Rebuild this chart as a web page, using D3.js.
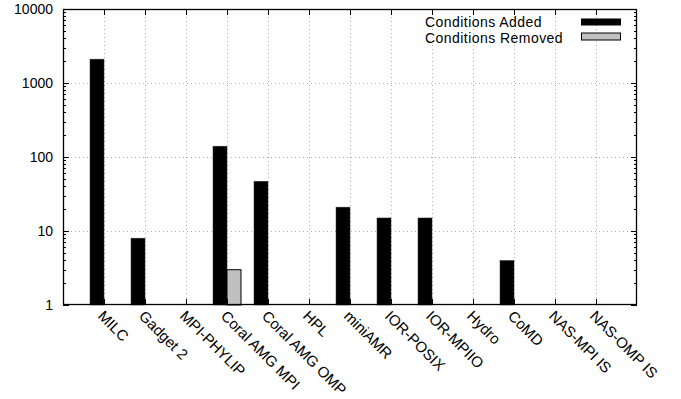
<!DOCTYPE html>
<html><head><meta charset="utf-8">
<script src="https://cdn.jsdelivr.net/npm/d3@7"></script>
<style>body{margin:0;background:#fff}text{font-family:Arial,"Liberation Sans",Helvetica,sans-serif}</style>
</head><body>
<svg id="c" width="681" height="399"></svg>
<script>
const categories = ["MILC","Gadget 2","MPI-PHYLIP","Coral AMG MPI","Coral AMG OMP","HPL","miniAMR","IOR-POSIX","IOR-MPIIO","Hydro","CoMD","NAS-MPI IS","NAS-OMP IS"];
const added   = [2100, 8, 0, 140, 47, 0, 21, 15, 15, 0, 4, 0, 0];
const removed = [0, 0, 0, 3, 0, 0, 0, 0, 0, 0, 0, 0, 0];
const seriesNames = ["Conditions Added","Conditions Removed"];
const yTicks = [1, 10, 100, 1000, 10000];

const svg = d3.select("#c");
const L = 63, R = 637, T = 9, B = 305;
const x = d3.scaleLinear().domain([0, categories.length + 1]).range([L, R]);
const y = d3.scaleLog().domain([1, 10000]).range([B, T]);
const bw = 14;

// grid
const grid = svg.append("g").attr("stroke", "#b0b0b0").attr("stroke-width", 1).attr("stroke-dasharray", "1,3");
yTicks.slice(1, -1).forEach(v => grid.append("line").attr("x1", L).attr("x2", R).attr("y1", Math.round(y(v)) + .5).attr("y2", Math.round(y(v)) + .5));
categories.forEach((c, i) => grid.append("line").attr("x1", Math.round(x(i + 1)) + .5).attr("x2", Math.round(x(i + 1)) + .5).attr("y1", T).attr("y2", B));

// bars
const bars = svg.append("g");
added.forEach((v, i) => { if (v > 0) bars.append("rect").attr("x", x(i + 1) - bw).attr("width", bw).attr("y", y(v)).attr("height", B - y(v)).attr("fill", "#000").attr("stroke", "#333").attr("stroke-width", 0.5); });
removed.forEach((v, i) => { if (v > 0) bars.append("rect").attr("x", x(i + 1)).attr("width", bw).attr("y", y(v)).attr("height", B - y(v)).attr("fill", "#c0c0c0").attr("stroke", "#000").attr("stroke-width", 1); });

// ticks
const tk = svg.append("g").attr("stroke", "#000").attr("stroke-width", 1);
for (let d = 1; d < 10000; d *= 10) {
  for (let m = 1; m < 10; m++) {
    const v = d * m, yy = Math.round(y(v)) + .5, len = m === 1 ? 6 : 3;
    tk.append("line").attr("x1", L).attr("x2", L + len).attr("y1", yy).attr("y2", yy);
    tk.append("line").attr("x1", R).attr("x2", R - len).attr("y1", yy).attr("y2", yy);
  }
}
categories.forEach((c, i) => {
  const xx = Math.round(x(i + 1)) + .5;
  tk.append("line").attr("x1", xx).attr("x2", xx).attr("y1", B).attr("y2", B - 6);
  tk.append("line").attr("x1", xx).attr("x2", xx).attr("y1", T).attr("y2", T + 6);
});
svg.append("rect").attr("x", L + .5).attr("y", T + .5).attr("width", R - L - 1).attr("height", B - T - 1).attr("fill", "none").attr("stroke", "#000").attr("stroke-width", 1.3);

// y labels
yTicks.forEach(v => svg.append("text").attr("x", L - 10).attr("y", y(v) + 5).attr("text-anchor", "end").attr("font-size", 14).text(v));

// x labels
categories.forEach((c, i) => {
  const xx = x(i + 1) - 7, yy = B + 12;
  svg.append("text").attr("transform", `translate(${xx},${yy}) rotate(45)`).attr("font-size", 15).text(c);
});

// legend
const lx = 425, ly = [27, 43];
seriesNames.forEach((s, k) => svg.append("text").attr("x", lx).attr("y", ly[k]).attr("font-size", 14).attr("letter-spacing", 0.45).text(s));
svg.append("rect").attr("x", 581).attr("y", 18.5).attr("width", 40).attr("height", 7).attr("fill", "#000");
svg.append("rect").attr("x", 581.5).attr("y", 33).attr("width", 39).attr("height", 7).attr("fill", "#c0c0c0").attr("stroke", "#000").attr("stroke-width", 1);
</script>
</body></html>
